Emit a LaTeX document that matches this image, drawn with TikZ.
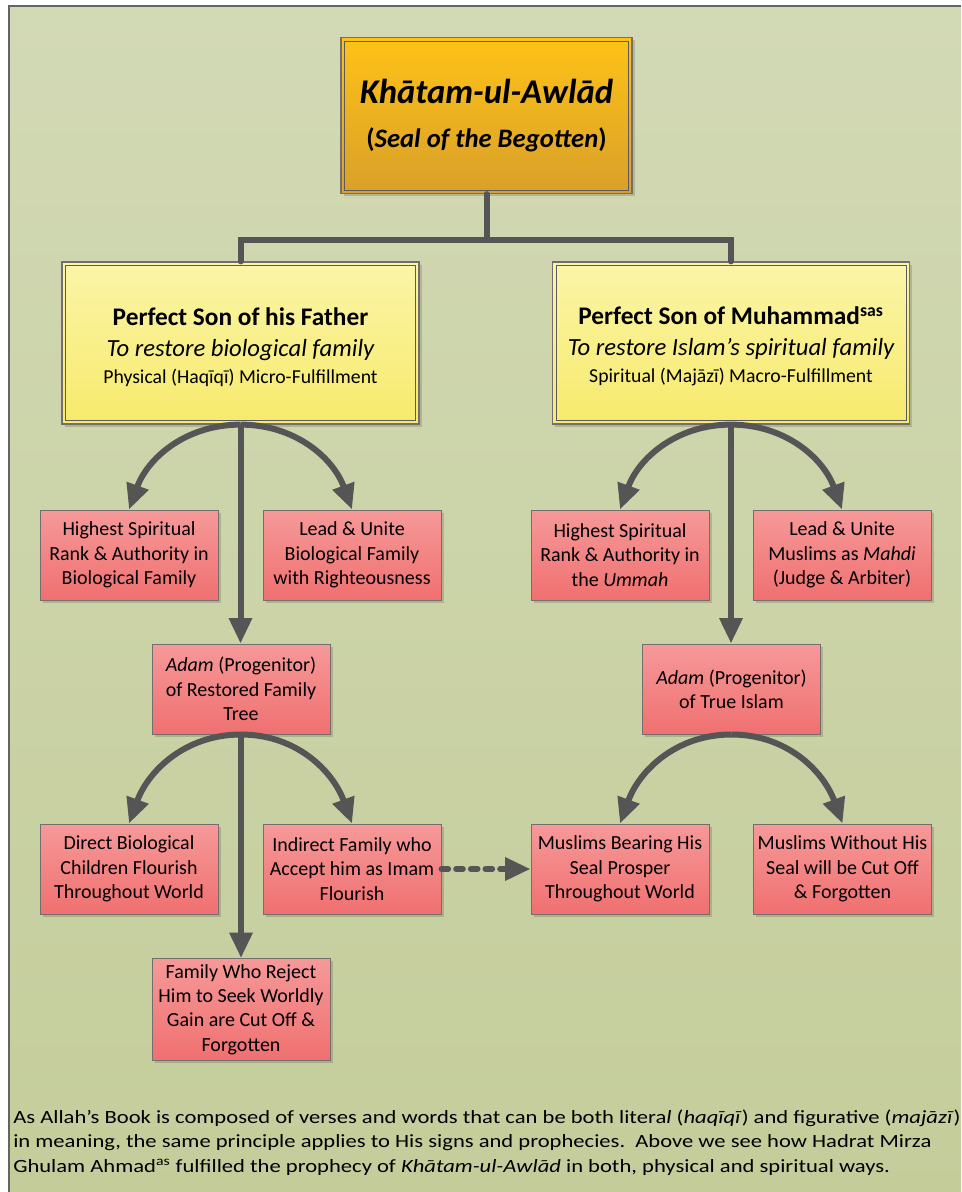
\documentclass[tikz,border=0pt]{standalone}
\usepackage{fontspec}
\setmainfont{Carlito}
\usetikzlibrary{calc,arrows.meta,shadows}

\definecolor{bgtop}{RGB}{210,217,181}
\definecolor{bgbot}{RGB}{196,205,154}
\definecolor{linegray}{RGB}{85,85,85}
\definecolor{framegray}{RGB}{100,100,100}
\definecolor{sealtop}{RGB}{254,194,22}
\definecolor{sealbot}{RGB}{217,160,42}
\definecolor{sontop}{RGB}{251,245,168}
\definecolor{sonbot}{RGB}{247,234,108}
\definecolor{redtop}{RGB}{246,153,153}
\definecolor{redbot}{RGB}{240,112,112}
\definecolor{boxrim}{RGB}{118,110,110}
\definecolor{innerrim}{RGB}{90,90,100}

\newcommand{\widetext}[2]{\scalebox{#1}[1]{#2}}

\tikzset{
  boxshadow/.style={drop shadow={shadow xshift=2pt,shadow yshift=-2pt,fill=black,opacity=0.15}},
  sealbox/.style={draw=boxrim,line width=0.9pt,top color=sealtop,bottom color=sealbot,
    minimum width=218.25pt,minimum height=117pt,inner sep=0pt,align=center,boxshadow,
    font=\fontsize{26}{33}\selectfont},
  sonbox/.style={draw=boxrim,line width=0.9pt,top color=sontop,bottom color=sonbot,
    minimum width=267.75pt,minimum height=121.5pt,inner sep=0pt,align=center,boxshadow,
    font=\fontsize{19}{23.25}\selectfont},
  redbox/.style={draw=boxrim,line width=0.75pt,top color=redtop,bottom color=redbot,
    minimum width=133.5pt,minimum height=67.5pt,inner sep=0pt,align=center,boxshadow,
    font=\fontsize{15}{18.3}\selectfont},
  link/.style={line width=4.5pt,draw=linegray,-{Triangle[length=19pt,width=16.5pt]}},
  dotlink/.style={link,dash pattern=on 5pt off 6pt,line cap=round},
  note/.style={anchor=base west,inner sep=0pt,font=\fontsize{14}{17}\selectfont},
}

\begin{document}
\begin{tikzpicture}[x=0.75pt,y=-0.75pt] % 1 unit = 1 pixel of the sheet

\useasboundingbox (0,0) rectangle (961,1192);

%HINTERGRUND
\shade[top color=bgtop,bottom color=bgbot] (9,6) rectangle (961,1192);
\draw[framegray,line width=1.5pt] (9,1192) -- (9,6) -- (961,6);



%EBENE NR. 0 (von oben)
\node[sealbox] (seal) at (486.5,115.5)
  {{\bfseries\itshape Khātam-ul-Awlād}\\
   {\fontsize{20}{24}\selectfont\bfseries(\textit{Seal of the Begotten})}};



%EBENE NR. 1 (von oben)
\node[sonbox] (father) at (240.5,343)
  {\rule{0pt}{19pt}{\bfseries Perfect Son of his Father}\\
   {\fontsize{18.5}{22}\selectfont\itshape To restore biological family}\\[-3pt]
   {\fontsize{14.8}{17}\selectfont Physical (Haqīqī) Micro-Fulfillment}};

\node[sonbox] (prophet) at (731,343)
  {\rule{0pt}{19pt}{\bfseries Perfect Son of Muhammad\textsuperscript{sas}}\\
   {\fontsize{18.5}{22}\selectfont\itshape To restore Islam’s spiritual family}\\[-3pt]
   {\fontsize{14.8}{17}\selectfont Spiritual (Majāzī) Macro-Fulfillment}};

%DOPPELRAND
\foreach \n in {seal,father,prophet}
  \draw[innerrim,line width=0.6pt] ([shift={(3pt,-3pt)}]\n.north west) rectangle ([shift={(-3pt,3pt)}]\n.south east);

\coordinate (split) at (486.5,240);
\draw[linegray,line width=4.5pt,line cap=round] (seal.south) -- (split) -| (father.north);
\draw[linegray,line width=4.5pt,line cap=round] (split) -| (prophet.north);



%EBENE NR. 2 (von oben)
\node[redbox] (rankfam) at (129,555) {Highest Spiritual\\Rank \& Authority in\\Biological Family};
\node[redbox] (leadfam) at (352,555) {Lead \& Unite\\Biological Family\\with Righteousness};
\node[redbox] (rankumm) at (620,555) {Highest Spiritual\\Rank \& Authority in\\the \textit{Ummah}};
\node[redbox] (leadumm) at (842,555) {Lead \& Unite\\Muslims as \textit{Mahdi}\\(Judge \& Arbiter)};

\draw[link] (father.south) to[out=180,in=70] (rankfam.north);
\draw[link] (father.south) to[out=0,in=110] (leadfam.north);
\draw[link] (prophet.south) to[out=180,in=70] (rankumm.north);
\draw[link] (prophet.south) to[out=0,in=110] (leadumm.north);



%EBENE NR. 3 (von oben)
\node[redbox] (adamfam) at (241,689) {\textit{Adam} (Progenitor)\\of Restored Family\\Tree};
\node[redbox] (adamisl) at (731.5,689) {\textit{Adam} (Progenitor)\\of True Islam};

\draw[link] (father.south) -- (father.south |- adamfam.north);
\draw[link] (prophet.south) -- (prophet.south |- adamisl.north);



%EBENE NR. 4 (von oben)
\node[redbox] (direct) at (129,869) {Direct Biological\\Children Flourish\\Throughout World};
\node[redbox] (indirect) at (352,869) {Indirect Family who\\Accept him as Imam\\Flourish};
\node[redbox] (bearing) at (620,869) {Muslims Bearing His\\Seal Prosper\\Throughout World};
\node[redbox] (without) at (842.5,869) {Muslims Without His\\Seal will be Cut Off\\\& Forgotten};

\draw[link] (adamfam.south) to[out=180,in=70] (direct.north);
\draw[link] (adamfam.south) to[out=0,in=110] (indirect.north);
\draw[link] (adamisl.south) to[out=180,in=70] (bearing.north);
\draw[link] (adamisl.south) to[out=0,in=110] (without.north);
\draw[dotlink] (indirect.east) -- (bearing.west);



%EBENE NR. 5 (von oben)
\node[redbox,minimum height=76.5pt] (reject) at (241,1009.5) {Family Who Reject\\Him to Seek Worldly\\Gain are Cut Off \&\\Forgotten};

\draw[link] (adamfam.south) -- (reject.north);



%TEXT UNTEN
\node[note] (note1) at (13,1123) {\widetext{1.21}{As Allah’s Book is composed of verses and words that can be both litera\textit{l} (\textit{haqīqī}) and figurative (\textit{majāzī})}};
\node[note] (note2) at (13,1147.5) {\widetext{1.21}{in meaning, the same principle applies to His signs and prophecies.\ \ Above we see how Hadrat Mirza}};
\node[note] (note3) at (13,1172) {\widetext{1.21}{Ghulam Ahmad\textsuperscript{as} fulfilled the prophecy of \textit{Khātam-ul-Awlād} in both, physical and spiritual ways.}};

\end{tikzpicture}
\end{document}
